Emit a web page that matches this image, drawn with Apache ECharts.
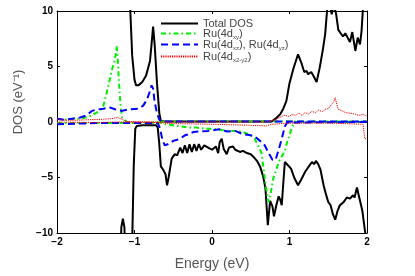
<!DOCTYPE html>
<html>
<head>
<meta charset="utf-8">
<script src="https://cdn.jsdelivr.net/npm/echarts@6/dist/echarts.min.js"></script>
<style>html,body{margin:0;padding:0;background:#fff;}#c{width:415px;height:276px;}</style>
</head>
<body>
<div id="c"></div>
<script>
// ---- data (energy in eV, DOS in 1/eV) ----
var xTicks = [-2, -1, 0, 1, 2];
var yTicks = [-10, -5, 0, 5, 10];

var totalUpE = [-2, -1.1, -1.06, -1.03, -1.0, -0.98, -0.95, -0.9, -0.85, -0.8, -0.78, -0.76, -0.74, -0.71, -0.68, -0.66, -0.6, 0.0, 0.77, 0.82, 0.88, 0.92, 0.96, 1.0, 1.05, 1.11, 1.15, 1.19, 1.22, 1.24, 1.28, 1.31, 1.35, 1.39, 1.43, 1.46, 1.49, 1.52, 1.545, 1.57, 1.6, 1.63, 1.66, 1.69, 1.72, 1.74, 1.78, 1.81, 1.85, 1.88, 1.91, 1.93, 1.95, 2.0];
var totalUpV = [14, 14, 11, 6, 3.8, 3.3, 3.3, 3.6, 4.2, 5.5, 7.0, 8.6, 7.0, 3.5, 0.8, 0.1, 0.05, 0.05, 0.05, 0.3, 0.7, 1.2, 1.9, 3.5, 4.8, 6.1, 5.4, 4.5, 4.6, 4.3, 4.5, 4.15, 3.6, 4.9, 6.5, 7.9, 10.5, 10.5, 9.7, 10.5, 9.8, 8.3, 8.0, 7.7, 8.0, 7.9, 7.2, 8.1, 6.4, 7.6, 7.0, 8.2, 10.5, 14];

var totalDnE = [-2, -1.19, -1.17, -1.15, -1.13, -1.11, -1.04, -1.03, -1.01, -0.99, -0.97, -0.9, -0.8, -0.72, -0.7, -0.68, -0.66, -0.63, -0.6, -0.58, -0.56, -0.52, -0.48, -0.45, -0.41, -0.38, -0.35, -0.32, -0.29, -0.26, -0.23, -0.2, -0.17, -0.14, -0.1, -0.05, 0.0, 0.05, 0.08, 0.1, 0.125, 0.15, 0.19, 0.22, 0.27, 0.3, 0.36, 0.4, 0.45, 0.5, 0.53, 0.58, 0.62, 0.66, 0.69, 0.72, 0.75, 0.78, 0.8, 0.83, 0.86, 0.88, 0.9, 0.92, 0.94, 0.98, 1.02, 1.06, 1.11, 1.15, 1.2, 1.25, 1.29, 1.32, 1.34, 1.37, 1.4, 1.44, 1.47, 1.5, 1.53, 1.56, 1.59, 1.62, 1.65, 1.7, 1.74, 1.78, 1.82, 1.84, 1.87, 1.89, 1.91, 1.94, 1.97, 2.0];
var totalDnV = [-14, -14, -9.5, -8.7, -9.5, -14, -14, -11, -4, -0.6, -0.35, -0.3, -0.3, -0.3, -0.5, -2, -4.0, -4.3, -4.7, -5.7, -5.0, -3.3, -2.9, -3.0, -2.3, -2.8, -2.1, -2.8, -2.0, -2.7, -2.0, -2.6, -2.0, -2.5, -2.1, -2.3, -2.5, -2.2, -2.8, -1.8, -1.5, -2.4, -2.9, -2.3, -2.2, -2.5, -2.7, -2.6, -2.8, -2.9, -3.1, -3.5, -4.0, -4.9, -6.0, -9.3, -7.1, -7.6, -8.5, -7.5, -6.7, -7.0, -7.5, -5.5, -3.6, -3.9, -4.2, -5.0, -5.7, -5.2, -4.5, -4.0, -3.6, -3.8, -3.5, -3.8, -4.3, -5.7, -6.5, -7.2, -7.5, -8.3, -8.8, -8.0, -7.5, -7.2, -6.8, -6.9, -6.6, -6.8, -5.9, -6.5, -7.1, -8.0, -9.6, -11];

var dxyUpE = [-2, -1.9, -1.8, -1.7, -1.6, -1.55, -1.5, -1.45, -1.4, -1.36, -1.32, -1.29, -1.26, -1.245, -1.23, -1.215, -1.2, -1.18, -1.16, -1.1, -1.0, -0.9, -0.8, -0.7, -0.6, 2.0];
var dxyUpV = [0.3, 0.2, 0.3, 0.3, 0.45, 0.6, 0.8, 1.0, 1.5, 2.6, 3.8, 4.75, 5.4, 6.0, 6.85, 5.5, 3.5, 1.5, 0.4, 0.0, -0.1, -0.05, -0.1, 0.0, 0.05, 0.05];

var dxyDnE = [-2, -1.5, -1.0, -0.66, -0.6, -0.5, -0.4, -0.3, -0.2, -0.1, 0.0, 0.1, 0.2, 0.3, 0.4, 0.5, 0.55, 0.6, 0.64, 0.67, 0.7, 0.73, 0.76, 0.79, 0.83, 0.86, 0.9, 0.94, 0.97, 1.0, 1.03, 1.06, 1.1, 2.0];
var dxyDnV = [-0.1, -0.1, -0.1, -0.05, -0.2, -0.3, -0.4, -0.5, -0.5, -0.6, -0.6, -0.7, -0.8, -0.8, -0.9, -1.2, -1.5, -2.2, -2.8, -4.5, -6.0, -7.2, -6.3, -5.1, -4.3, -3.6, -3.1, -2.6, -1.8, -1.2, -0.5, -0.1, 0.0, 0.0];

var dxzUpE = [-2, -1.9, -1.8, -1.7, -1.62, -1.55, -1.5, -1.4, -1.32, -1.25, -1.17, -1.1, -1.04, -0.95, -0.89, -0.84, -0.8, -0.78, -0.76, -0.74, -0.71, -0.68, -0.65, 2.0];
var dxzUpV = [0.3, 0.2, 0.3, 0.4, 0.6, 1.0, 1.1, 1.2, 1.3, 1.15, 1.0, 1.1, 1.15, 1.2, 1.45, 2.0, 2.8, 3.3, 3.0, 1.8, 0.8, 0.2, 0.05, 0.05];

var dxzDnE = [-2, -1.5, -1.0, -0.7, -0.67, -0.64, -0.61, -0.57, -0.5, -0.45, -0.41, -0.35, -0.3, -0.24, -0.15, -0.05, 0.05, 0.1, 0.19, 0.3, 0.4, 0.5, 0.55, 0.62, 0.68, 0.73, 0.78, 0.82, 0.86, 0.9, 0.94, 0.97, 2.0];
var dxzDnV = [-0.2, -0.1, -0.1, -0.1, -0.6, -1.6, -2.1, -2.0, -1.7, -1.6, -1.5, -1.2, -1.1, -0.9, -0.85, -0.8, -0.7, -0.65, -0.85, -0.8, -1.1, -1.2, -1.3, -1.7, -2.1, -2.8, -3.4, -3.4, -2.5, -1.5, -0.4, -0.05, 0.0];

var dx2UpE = [-2, -1.8, -1.6, -1.4, -1.3, -1.22, -1.18, -1.1, -0.7, 0.7, 0.77, 0.84, 0.9, 0.94, 1.0, 1.03, 1.08, 1.12, 1.16, 1.2, 1.25, 1.29, 1.33, 1.38, 1.42, 1.46, 1.5, 1.545, 1.57, 1.59, 1.61, 1.63, 1.68, 1.72, 1.78, 1.85, 1.9, 1.95, 2.0];
var dx2UpV = [0.2, 0.15, 0.2, 0.25, 0.3, 0.4, 0.3, 0.05, 0.0, 0.0, 0.1, 0.3, 0.5, 0.6, 0.5, 0.7, 0.6, 0.8, 0.6, 0.85, 0.7, 1.0, 0.8, 1.1, 0.9, 1.15, 1.2, 1.6, 1.8, 2.2, 1.6, 1.15, 1.0, 0.85, 0.8, 0.7, 0.6, 0.7, 0.5];

var dx2DnE = [-2, -1.5, -1.2, -0.7, -0.5, 0.0, 0.5, 0.7, 0.77, 1.0, 1.5, 1.95, 1.97, 2.0];
var dx2DnV = [0.0, -0.05, 0.0, -0.05, -0.15, -0.2, -0.3, -0.35, -0.2, -0.1, -0.1, -0.2, -1.5, -1.5];

var names = ['Total DOS', 'Ru(4d_xy)', 'Ru(4d_xz), Ru(4d_yz)', 'Ru(4d_x2-y2)'];
var legendText = {
  'Total DOS': 'Total DOS',
  'Ru(4d_xy)': 'Ru(4d{s|xy})',
  'Ru(4d_xz), Ru(4d_yz)': 'Ru(4d{s|xz}), Ru(4d{s|yz})',
  'Ru(4d_x2-y2)': 'Ru(4d{s|x2-y2})'
};

function pairs(E, V) { return E.map(function (e, i) { return [e, V[i]]; }); }
function fmt(v) { return String(v).replace('-', '\u2212'); }

var styles = {
  'Total DOS': { color: '#000000', width: 2, type: 'solid' },
  'Ru(4d_xy)': { color: '#00ee00', width: 2, type: [5, 3, 1.5, 3] },
  'Ru(4d_xz), Ru(4d_yz)': { color: '#0000ff', width: 2, type: [7, 4] },
  'Ru(4d_x2-y2)': { color: '#ff0000', width: 1, type: [1.2, 1] }
};

function mk(name, E, V) {
  var s = styles[name];
  return {
    name: name, type: 'line', data: pairs(E, V), symbol: 'none', smooth: false,
    clip: true, animation: false,
    lineStyle: { color: s.color, width: s.width, type: s.type },
    itemStyle: { color: s.color }
  };
}

var series = [
  mk(names[0], totalUpE, totalUpV),
  mk(names[0], totalDnE, totalDnV),
  mk(names[1], dxyUpE, dxyUpV),
  mk(names[1], dxyDnE, dxyDnV),
  mk(names[2], dxzUpE, dxzUpV),
  mk(names[2], dxzDnE, dxzDnV),
  mk(names[3], dx2UpE, dx2UpV),
  mk(names[3], dx2DnE, dx2DnV)
];

var legendTops = [18, 28, 39, 51];
var legends = names.map(function (n, i) {
  return {
    show: true,
    data: [n], left: 160, top: legendTops[i], orient: 'vertical',
    itemWidth: 37, itemHeight: 10, itemGap: 0, padding: 0,
    itemStyle: { opacity: 0 },
    formatter: function (name) { return legendText[name]; },
    textStyle: {
      color: '#444', fontSize: 11, fontFamily: 'Liberation Sans, Arial, sans-serif',
      rich: { s: { fontSize: 6, color: '#444', padding: [7, 0, 0, 0], fontFamily: 'Liberation Sans, Arial, sans-serif' } }
    }
  };
});

var axisFont = { color: '#000', fontSize: 10, fontWeight: 'bold', fontFamily: 'Liberation Sans, Arial, sans-serif' };
var lineSt = { onZero: false, lineStyle: { color: '#000', width: 1 } };
var tickSt = { inside: true, length: 3, lineStyle: { color: '#000' } };

var option = {
  backgroundColor: '#fff',
  animation: false,
  grid: { left: 57, right: 48, top: 11, bottom: 42, containLabel: false },
  legend: legends,
  xAxis: [{
    type: 'value', min: xTicks[0], max: xTicks[xTicks.length - 1], interval: 1,
    name: 'Energy (eV)', nameLocation: 'middle', nameGap: 24,
    nameTextStyle: { color: '#555', fontSize: 14, fontFamily: 'Liberation Sans, Arial, sans-serif' },
    axisLine: lineSt, axisTick: tickSt,
    axisLabel: Object.assign({ margin: 4, formatter: fmt }, axisFont),
    splitLine: { show: false }
  }, {
    type: 'value', position: 'top', min: xTicks[0], max: xTicks[xTicks.length - 1], interval: 1,
    axisLine: lineSt, axisTick: tickSt,
    axisLabel: { show: false }, splitLine: { show: false }
  }],
  yAxis: [{
    type: 'value', min: yTicks[0], max: yTicks[yTicks.length - 1], interval: 5,
    name: 'DOS (eV\u207B\u00B9)', nameLocation: 'middle', nameGap: 24, nameRotate: 90,
    nameTextStyle: { color: '#555', fontSize: 13, fontFamily: 'Liberation Sans, Arial, sans-serif', padding: [0, 0, 0, 40] },
    axisLine: lineSt, axisTick: tickSt,
    axisLabel: Object.assign({ margin: 4, formatter: fmt }, axisFont),
    splitLine: { show: false }
  }, {
    type: 'value', position: 'right', min: yTicks[0], max: yTicks[yTicks.length - 1], interval: 5,
    axisLine: { show: true, onZero: false, lineStyle: { color: '#000', width: 1 } },
    axisTick: { show: true, inside: true, length: 3, lineStyle: { color: '#000' } },
    axisLabel: { show: false }, splitLine: { show: false }
  }],
  series: series
};

var chart = echarts.init(document.getElementById('c'), null, { renderer: 'canvas' });
chart.setOption(option);
</script>
</body>
</html>
